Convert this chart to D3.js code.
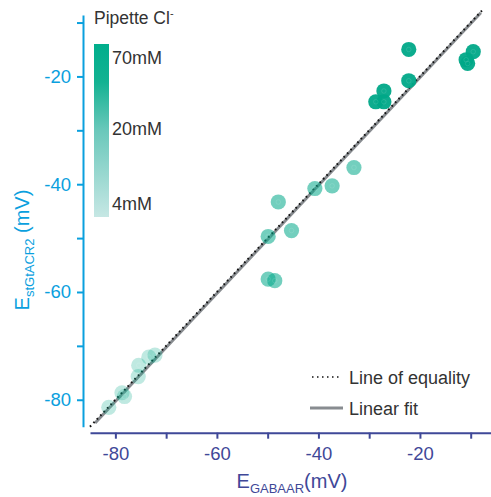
<!DOCTYPE html>
<html>
<head>
<meta charset="utf-8">
<script src="https://cdn.jsdelivr.net/npm/d3@7"></script>
<style>
  body { margin: 0; background: #fff; }
  text { font-family: "Liberation Sans", Arial, sans-serif; }
</style>
</head>
<body>
<div id="chart"></div>
<script>
const width = 491, height = 497;

// data: [E_GABAAR, E_stGtACR2] per pipette Cl- group
const cl70 = [[-22.2, -15.0], [-22.2, -20.8], [-27.1, -22.7], [-27.1, -24.7], [-28.7, -24.7],
              [-9.5, -15.4], [-10.9, -16.9], [-10.6, -17.6]];
const cl20 = [[-33.0, -36.9], [-40.7, -40.8], [-37.3, -40.3], [-47.9, -43.3], [-45.3, -48.6],
              [-49.9, -49.7], [-49.9, -57.6], [-48.6, -57.9]];
const cl4 = [[-81.3, -81.4], [-78.7, -78.7], [-78.2, -79.4], [-75.5, -75.7], [-75.4, -73.6],
             [-73.4, -72.1], [-72.2, -71.7]];
const groups = [
  { name: "4mM", data: cl4, opacity: 0.25 },
  { name: "20mM", data: cl20, opacity: 0.55 },
  { name: "70mM", data: cl70, opacity: 0.95 }
];
const equality = [[-85, -85], [-7.5, -7.5]];
const fit = [[-84, -84.3], [-8, -8.2]];
const xTicks = [-80, -70, -60, -50, -40, -30, -20, -10];
const xTickLabels = [-80, -60, -40, -20];
const yTicks = [-80, -70, -60, -50, -40, -30, -20, -10];
const yTickLabels = [-80, -60, -40, -20];
const legendLabels = ["70mM", "20mM", "4mM"];

const teal = "rgb(0,168,136)";
const yColor = "#0aa0de";
const xColor = "#3f4898";

const svg = d3.select("#chart").append("svg")
  .attr("width", width).attr("height", height);

const x = d3.scaleLinear().domain([-85, -6]).range([90, 491]);
const y = d3.scaleLinear().domain([-85, -8.6]).range([426.7, 15]);

// y axis
const yAxis = svg.append("g").attr("transform", "translate(83,0)")
  .call(d3.axisLeft(y).tickValues(yTicks).tickSize(6).tickSizeOuter(0)
    .tickFormat(d => yTickLabels.includes(d) ? d : ""));
yAxis.select(".domain").attr("stroke", yColor).attr("stroke-width", 2);
yAxis.selectAll(".tick line").attr("stroke", yColor).attr("stroke-width", 2);
yAxis.selectAll(".tick text").attr("fill", yColor).attr("font-size", 18.5)
  .attr("x", -12).attr("font-family", "Liberation Sans, Arial, sans-serif");

// x axis
const xAxis = svg.append("g").attr("transform", "translate(0,432.7)")
  .call(d3.axisBottom(x).tickValues(xTicks).tickSize(6).tickSizeOuter(0)
    .tickFormat(d => xTickLabels.includes(d) ? d : ""));
xAxis.select(".domain").attr("stroke", xColor).attr("stroke-width", 2);
xAxis.selectAll(".tick line").attr("stroke", xColor).attr("stroke-width", 2);
xAxis.selectAll(".tick text").attr("fill", xColor).attr("font-size", 18.5)
  .attr("y", 14).attr("font-family", "Liberation Sans, Arial, sans-serif");

// axis titles
const yt = svg.append("text")
  .attr("transform", "translate(29,250) rotate(-90)")
  .attr("text-anchor", "middle").attr("fill", yColor).attr("font-size", 20);
yt.append("tspan").text("E");
yt.append("tspan").attr("font-size", 13).attr("dy", 5).text("stGtACR2");
yt.append("tspan").attr("dy", -5).text(" (mV)");

const xt = svg.append("text")
  .attr("x", 292).attr("y", 488)
  .attr("text-anchor", "middle").attr("fill", xColor).attr("font-size", 20);
xt.append("tspan").text("E");
xt.append("tspan").attr("font-size", 13).attr("dy", 5).text("GABAAR");
xt.append("tspan").attr("dy", -5).text("(mV)");

// lines
const line = d3.line().x(d => x(d[0])).y(d => y(d[1]));
svg.append("path").datum(fit).attr("d", line)
  .attr("fill", "none").attr("stroke", "#888c90").attr("stroke-width", 3);
svg.append("path").datum(equality).attr("d", line)
  .attr("fill", "none").attr("stroke", "#111").attr("stroke-width", 2)
  .attr("stroke-dasharray", "1.6,3.4").attr("stroke-linecap", "butt");

// points
groups.forEach(g => {
  const gg = svg.append("g");
  gg.selectAll("circle.pt").data(g.data).join("circle")
    .attr("class", "pt")
    .attr("cx", d => x(d[0])).attr("cy", d => y(d[1])).attr("r", 7.6)
    .attr("fill", teal).attr("fill-opacity", g.opacity);
  gg.selectAll("circle.in").data(g.data).join("circle")
    .attr("class", "in")
    .attr("cx", d => x(d[0])).attr("cy", d => y(d[1])).attr("r", 2.3)
    .attr("fill", "none").attr("stroke", "#fff").attr("stroke-opacity", 0.15)
    .attr("stroke-width", 0.7);
});

// colour legend
const defs = svg.append("defs");
const grad = defs.append("linearGradient").attr("id", "clgrad")
  .attr("x1", 0).attr("y1", 0).attr("x2", 0).attr("y2", 1);
grad.append("stop").attr("offset", "0%").attr("stop-color", "#00ae8c");
grad.append("stop").attr("offset", "22%").attr("stop-color", "#13b292");
grad.append("stop").attr("offset", "50%").attr("stop-color", "#6ac8bb");
grad.append("stop").attr("offset", "100%").attr("stop-color", "#c6e7e4");
svg.append("rect").attr("x", 94).attr("y", 44).attr("width", 15).attr("height", 173)
  .attr("fill", "url(#clgrad)");
const lt = svg.append("text").attr("x", 94).attr("y", 24)
  .attr("fill", "#333").attr("font-size", 17.5);
lt.append("tspan").text("Pipette Cl");
lt.append("tspan").attr("font-size", 11).attr("dy", -7).text("-");
const labelBase = [64, 135, 210];
svg.selectAll("text.leg").data(legendLabels).join("text")
  .attr("class", "leg")
  .attr("x", 112).attr("y", (d, i) => labelBase[i])
  .attr("fill", "#333").attr("font-size", 18).text(d => d);

// line legend
svg.append("line").attr("x1", 312).attr("x2", 339).attr("y1", 377).attr("y2", 377)
  .attr("stroke", "#111").attr("stroke-width", 1.5).attr("stroke-dasharray", "1.5,3.5");
svg.append("text").attr("x", 349).attr("y", 383.5).attr("fill", "#333")
  .attr("font-size", 18).text("Line of equality");
svg.append("line").attr("x1", 310).attr("x2", 343).attr("y1", 408).attr("y2", 408)
  .attr("stroke", "#888c90").attr("stroke-width", 3);
svg.append("text").attr("x", 349).attr("y", 414.5).attr("fill", "#333")
  .attr("font-size", 18).text("Linear fit");
</script>
</body>
</html>
